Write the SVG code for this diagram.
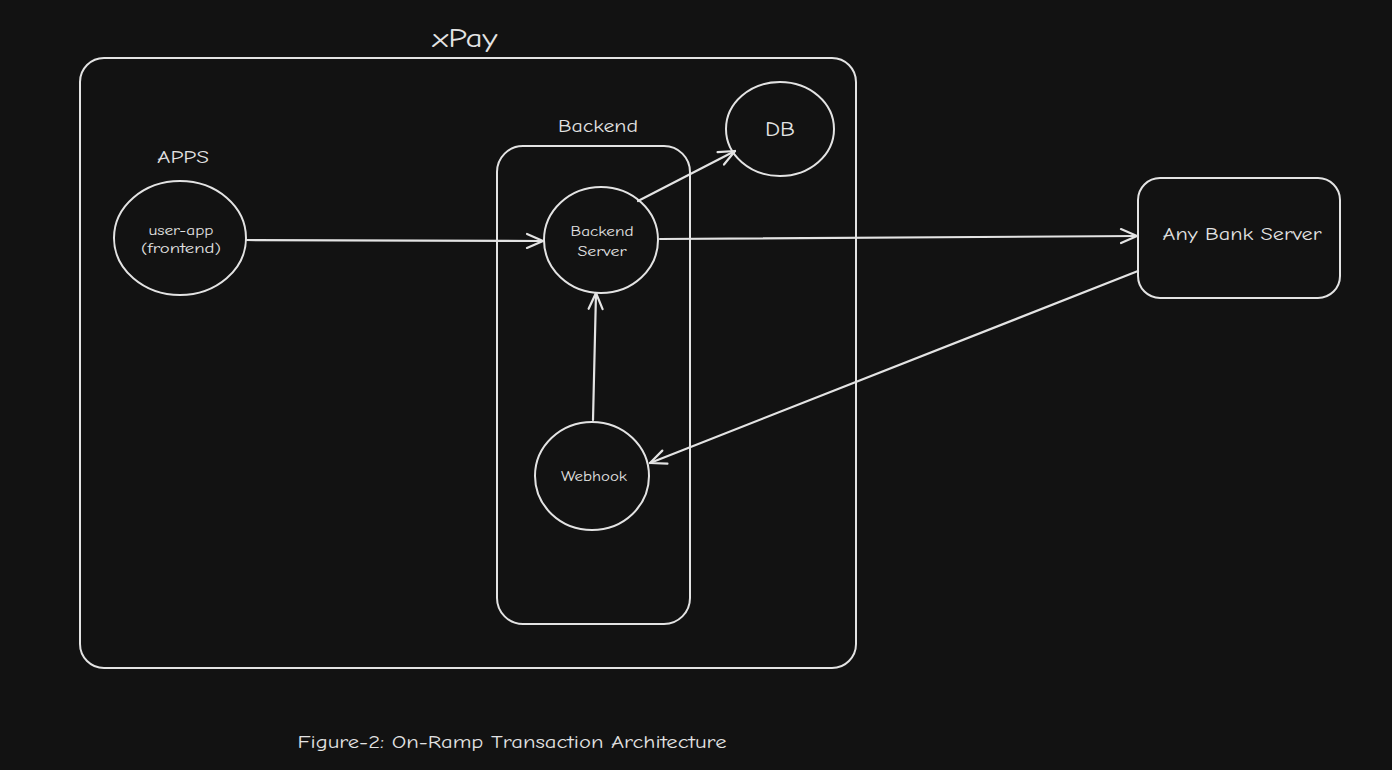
<svg xmlns="http://www.w3.org/2000/svg" width="1392" height="770" viewBox="0 0 1392 770">
<style>
.s{fill:none;stroke:#e3e3e3;stroke-width:2;stroke-linecap:round;stroke-linejoin:round}
.c{fill:none;stroke:#e3e3e3;stroke-width:2.2;stroke-linecap:round}
text{font-family:"Comic Neue","Liberation Sans","DejaVu Sans",sans-serif;fill:#e3e3e3;text-anchor:middle;dominant-baseline:central}
</style>
<defs>
<marker id="ah" viewBox="0 0 20 20" refX="18" refY="10" markerWidth="20" markerHeight="20" markerUnits="userSpaceOnUse" orient="auto">
<path d="M2 3 L18 10 L2 17" fill="none" stroke="#e3e3e3" stroke-width="2.2" stroke-linecap="round" stroke-linejoin="round"/>
</marker>
</defs>
<rect width="1392" height="770" fill="#121212"/>
<g id="xpay">
<rect class="s" x="80" y="58" width="776" height="610" rx="24"/>
<text x="465" y="39" font-size="26" textLength="65" lengthAdjust="spacingAndGlyphs">xPay</text>
</g>
<g id="apps-label"><text x="183" y="157" font-size="18" textLength="52" lengthAdjust="spacingAndGlyphs">APPS</text></g>
<g id="backend-group">
<rect class="s" x="497" y="146" width="193" height="478" rx="26"/>
<text x="598" y="126" font-size="18" textLength="80" lengthAdjust="spacingAndGlyphs">Backend</text>
</g>
<g id="user-app">
<ellipse class="s" cx="180" cy="238" rx="66" ry="57"/>
<text x="181" y="230" font-size="14" textLength="65" lengthAdjust="spacingAndGlyphs">user-app</text>
<text x="181" y="248" font-size="14" textLength="80" lengthAdjust="spacingAndGlyphs">(frontend)</text>
</g>
<g id="backend-server">
<ellipse class="s" cx="601" cy="240" rx="57" ry="53"/>
<text x="602" y="231" font-size="14" textLength="63" lengthAdjust="spacingAndGlyphs">Backend</text>
<text x="602" y="251" font-size="14" textLength="49" lengthAdjust="spacingAndGlyphs">Server</text>
</g>
<g id="db">
<ellipse class="s" cx="780" cy="129" rx="54" ry="47"/>
<text x="780" y="129" font-size="20" textLength="30" lengthAdjust="spacingAndGlyphs">DB</text>
</g>
<g id="webhook">
<ellipse class="s" cx="592" cy="476" rx="57" ry="54"/>
<text x="594" y="476" font-size="14" textLength="66" lengthAdjust="spacingAndGlyphs">Webhook</text>
</g>
<g id="bank">
<rect class="s" x="1138" y="178" width="202" height="120" rx="22"/>
<text x="1242" y="234" font-size="19" textLength="159" lengthAdjust="spacingAndGlyphs">Any Bank Server</text>
</g>
<g id="connectors">
<line class="c" x1="246" y1="240" x2="543" y2="241" marker-end="url(#ah)"/>
<line class="c" x1="638" y1="201" x2="735" y2="151" marker-end="url(#ah)"/>
<line class="c" x1="660" y1="239" x2="1137" y2="236" marker-end="url(#ah)"/>
<line class="c" x1="1138" y1="271" x2="650" y2="463" marker-end="url(#ah)"/>
<line class="c" x1="593" y1="420" x2="596" y2="293" marker-end="url(#ah)"/>
</g>
<g id="caption"><text x="512" y="742" font-size="17" textLength="429" lengthAdjust="spacingAndGlyphs">Figure-2: On-Ramp Transaction Architecture</text></g>
</svg>
